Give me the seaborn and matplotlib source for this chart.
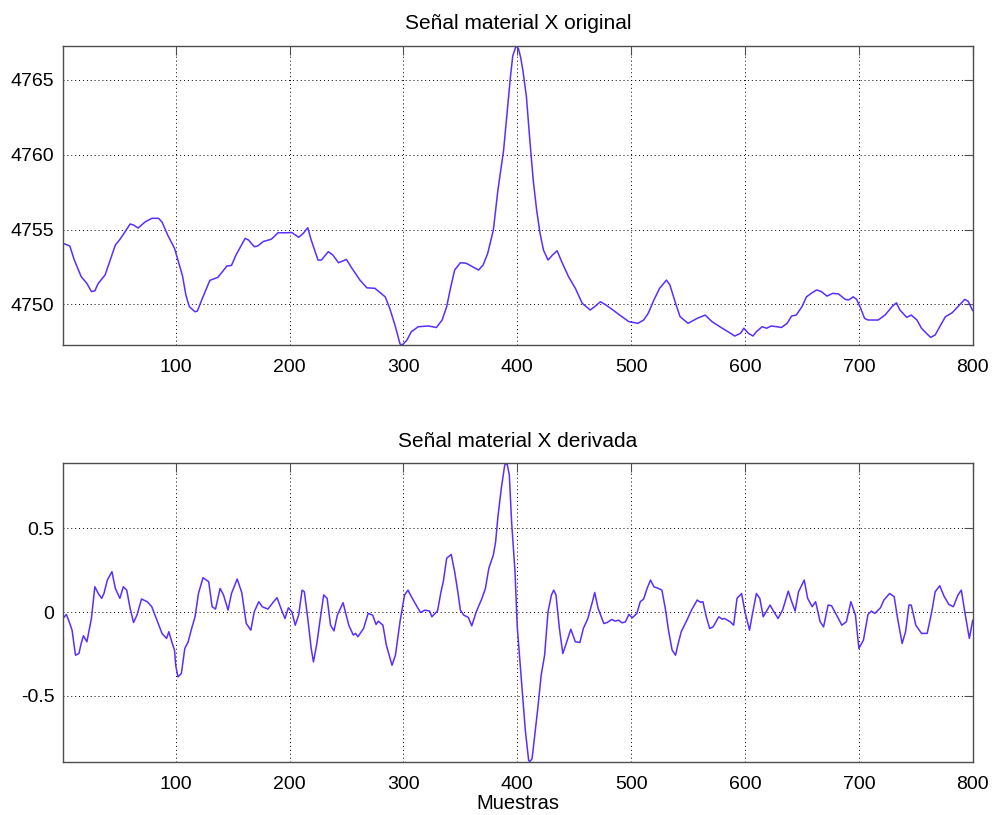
import matplotlib
matplotlib.use("Agg")
import matplotlib.pyplot as plt
import pandas as pd
import seaborn as sns

# Original material signal (sample index, amplitude)
sample_orig = [1, 7, 11, 17, 22, 26, 29, 32, 38, 42, 47, 51, 55, 60, 63, 67, 73, 79, 85, 88,
               93, 99, 102, 106, 109, 112, 117, 119, 124, 130, 137, 145, 149, 153, 161, 164, 169, 172, 177, 184,
               190, 196, 202, 208, 212, 216, 219, 225, 228, 234, 238, 243, 250, 254, 262, 268, 275, 284, 288, 293,
               297, 299, 303, 307, 313, 322, 329, 334, 338, 341, 345, 350, 355, 361, 366, 370, 374, 379, 383, 388,
               391, 394, 396, 399, 401, 403, 405, 408, 411, 414, 417, 420, 423, 427, 431, 435, 439, 445, 451, 457,
               464, 468, 473, 477, 484, 490, 498, 506, 511, 515, 520, 525, 531, 534, 539, 543, 550, 558, 565, 571,
               580, 585, 591, 596, 599, 603, 607, 610, 615, 619, 623, 628, 632, 637, 641, 645, 650, 654, 659, 663,
               667, 672, 677, 682, 688, 691, 695, 698, 701, 705, 708, 717, 723, 729, 733, 736, 742, 746, 751, 755,
               760, 763, 767, 771, 776, 782, 787, 793, 796, 800]
value_orig = [4754.08, 4753.90, 4752.96, 4751.85, 4751.40, 4750.85, 4750.90, 4751.40, 4751.96, 4752.85,
              4753.96, 4754.34, 4754.79, 4755.37, 4755.30, 4755.10, 4755.50, 4755.75, 4755.75, 4755.50,
              4754.63, 4753.74, 4752.96, 4751.90, 4750.60, 4749.84, 4749.50, 4749.55, 4750.50, 4751.60,
              4751.80, 4752.56, 4752.60, 4753.30, 4754.41, 4754.30, 4753.85, 4753.90, 4754.20, 4754.35,
              4754.79, 4754.78, 4754.80, 4754.48, 4754.74, 4755.12, 4754.30, 4752.96, 4752.96, 4753.52,
              4753.30, 4752.78, 4753.00, 4752.50, 4751.60, 4751.10, 4751.07, 4750.50, 4749.73, 4748.50,
              4747.35, 4747.28, 4747.60, 4748.17, 4748.50, 4748.55, 4748.45, 4748.95, 4749.84, 4750.96,
              4752.29, 4752.78, 4752.75, 4752.50, 4752.29, 4752.63, 4753.40, 4754.97, 4757.64, 4760.31,
              4762.77, 4765.21, 4766.60, 4767.29, 4767.10, 4766.50, 4765.60, 4763.90, 4761.00, 4758.30,
              4756.30, 4754.75, 4753.63, 4752.96, 4753.30, 4753.58, 4752.85, 4751.85, 4751.07, 4750.07,
              4749.62, 4749.84, 4750.17, 4750.00, 4749.62, 4749.28, 4748.84, 4748.73, 4748.95, 4749.40,
              4750.29, 4751.07, 4751.62, 4751.30, 4750.07, 4749.17, 4748.73, 4749.06, 4749.28, 4748.84,
              4748.40, 4748.17, 4747.88, 4748.06, 4748.40, 4748.06, 4747.88, 4748.17, 4748.50, 4748.40,
              4748.55, 4748.50, 4748.45, 4748.73, 4749.22, 4749.28, 4749.84, 4750.50, 4750.78, 4750.96,
              4750.85, 4750.55, 4750.73, 4750.70, 4750.33, 4750.29, 4750.50, 4750.33, 4749.84, 4749.06,
              4748.95, 4748.95, 4749.28, 4749.84, 4750.10, 4749.62, 4749.13, 4749.28, 4748.95, 4748.40,
              4748.01, 4747.79, 4747.95, 4748.50, 4749.17, 4749.44, 4749.84, 4750.33, 4750.20, 4749.57]

# Derivative of the signal (sample index, value)
sample_deriv = [1, 4, 7, 9, 12, 15, 17, 19, 22, 26, 29, 32, 35, 37, 40, 44, 47, 51, 54, 57,
                60, 63, 66, 70, 75, 79, 83, 88, 92, 94, 97, 99, 100, 102, 105, 108, 111, 114, 117, 120,
                124, 129, 132, 135, 139, 142, 146, 149, 154, 158, 162, 166, 169, 173, 176, 181, 186, 189, 193, 196,
                199, 202, 205, 208, 211, 213, 216, 219, 221, 224, 227, 230, 233, 236, 239, 242, 247, 252, 256, 258,
                260, 265, 269, 273, 276, 278, 282, 285, 290, 293, 297, 301, 304, 307, 312, 315, 319, 323, 325, 330,
                333, 335, 338, 342, 345, 348, 350, 353, 357, 360, 364, 369, 372, 375, 379, 381, 383, 386, 389, 391,
                393, 395, 398, 400, 404, 407, 410, 411, 413, 415, 418, 421, 424, 427, 430, 432, 434, 437, 440, 443,
                447, 451, 455, 458, 462, 466, 468, 471, 476, 479, 483, 486, 489, 492, 495, 498, 501, 505, 508, 511,
                514, 517, 520, 524, 527, 530, 533, 536, 539, 541, 544, 549, 553, 558, 561, 563, 566, 569, 572, 577,
                580, 582, 587, 590, 593, 597, 600, 604, 606, 610, 613, 616, 622, 625, 629, 633, 638, 641, 644, 647,
                652, 655, 659, 662, 666, 669, 673, 676, 682, 685, 689, 693, 697, 700, 704, 708, 711, 714, 719, 722,
                727, 731, 734, 738, 741, 744, 746, 750, 755, 760, 764, 767, 771, 775, 779, 783, 787, 790, 793, 797,
                800]
value_deriv = [-0.038, -0.014, -0.068, -0.108, -0.257, -0.247, -0.187, -0.141, -0.177, -0.038,
               0.151, 0.111, 0.082, 0.111, 0.191, 0.241, 0.141, 0.082, 0.151, 0.131,
               0.022, -0.062, -0.018, 0.078, 0.062, 0.032, -0.038, -0.127, -0.157, -0.117,
               -0.187, -0.227, -0.317, -0.386, -0.366, -0.217, -0.177, -0.098, -0.028, 0.111,
               0.205, 0.181, 0.032, 0.018, 0.141, 0.102, 0.012, 0.111, 0.197, 0.117,
               -0.068, -0.108, 0.002, 0.062, 0.032, 0.018, 0.062, 0.086, 0.012, -0.038,
               0.026, 0.002, -0.078, -0.018, 0.131, 0.121, -0.038, -0.217, -0.297, -0.187,
               -0.038, 0.102, 0.082, -0.078, -0.112, -0.018, 0.056, -0.078, -0.137, -0.127,
               -0.147, -0.098, -0.008, -0.018, -0.074, -0.054, -0.078, -0.197, -0.317, -0.257,
               -0.058, 0.102, 0.131, 0.092, 0.032, -0.002, 0.012, 0.006, -0.028, 0.008,
               0.121, 0.181, 0.321, 0.344, 0.241, 0.111, 0.012, -0.018, -0.032, -0.082,
               0.002, 0.082, 0.141, 0.261, 0.341, 0.420, 0.569, 0.739, 0.878, 0.887,
               0.818, 0.540, 0.241, -0.090, -0.440, -0.700, -0.885, -0.892, -0.874, -0.755,
               -0.575, -0.376, -0.257, 0.002, 0.102, 0.131, 0.102, -0.098, -0.247, -0.187,
               -0.102, -0.177, -0.181, -0.098, -0.038, 0.062, 0.117, 0.022, -0.068, -0.062,
               -0.044, -0.054, -0.048, -0.064, -0.058, -0.014, -0.034, -0.008, 0.062, 0.078,
               0.141, 0.191, 0.151, 0.141, 0.131, 0.022, -0.117, -0.227, -0.257, -0.197,
               -0.117, -0.048, 0.012, 0.072, 0.058, 0.062, -0.028, -0.098, -0.088, -0.028,
               -0.042, -0.038, -0.058, -0.078, 0.082, 0.111, 0.000, -0.108, -0.030, 0.111,
               0.082, -0.028, 0.042, 0.006, -0.038, 0.012, 0.125, 0.062, 0.006, 0.121,
               0.191, 0.082, 0.032, 0.062, -0.058, -0.088, 0.042, 0.038, -0.038, -0.078,
               -0.058, 0.062, -0.018, -0.217, -0.167, -0.014, 0.006, -0.008, 0.026, 0.072,
               0.111, 0.092, -0.038, -0.187, -0.117, 0.042, 0.042, -0.078, -0.127, -0.127,
               0.002, 0.121, 0.157, 0.092, 0.046, 0.032, 0.102, 0.131, 0.002, -0.157,
               -0.048]

x_ticks = [100, 200, 300, 400, 500, 600, 700, 800]
top_yticks = [4750, 4755, 4760, 4765]
bottom_yticks = [-0.5, 0, 0.5]
top_title = "Señal material X original"
bottom_title = "Señal material X derivada"
x_label = "Muestras"

sns.set_style("white")
plt.rcParams["font.family"] = ["Liberation Sans", "DejaVu Sans"]

LINE_COLOR = "#5a2eff"
FRAME_COLOR = "#4d4d4d"

fig = plt.figure(figsize=(9.93, 8.15), dpi=100)
ax_top = fig.add_axes([0.0634, 0.5767, 0.9162, 0.3672])
ax_bot = fig.add_axes([0.0634, 0.0654, 0.9162, 0.3661])

panels = [
    (ax_top, pd.DataFrame({"muestra": sample_orig, "valor": value_orig}), top_yticks, top_title),
    (ax_bot, pd.DataFrame({"muestra": sample_deriv, "valor": value_deriv}), bottom_yticks, bottom_title),
]

for ax, df, yticks, title in panels:
    sns.lineplot(data=df, x="muestra", y="valor", ax=ax, color=LINE_COLOR,
                 linewidth=1.1, estimator=None, sort=False)
    ax.set_xlim(1, 800)
    ax.set_ylim(df["valor"].min(), df["valor"].max())
    ax.set_xticks(x_ticks)
    ax.set_yticks(yticks)
    ax.set_yticklabels([f"{t:g}" for t in yticks])
    ax.grid(True, color="black", linestyle=(0, (1, 3)), linewidth=0.7)
    ax.set_axisbelow(True)
    ax.tick_params(axis="both", which="major", direction="in", length=6.5, width=0.8,
                   color=FRAME_COLOR, top=True, right=True, labelsize=14, labelcolor="black")
    ax.tick_params(axis="x", pad=10)
    ax.tick_params(axis="y", pad=6)
    for sp in ax.spines.values():
        sp.set_visible(True)
        sp.set_color(FRAME_COLOR)
        sp.set_linewidth(1.0)
    ax.set_title(title, fontsize=15, pad=12, color="black")
    ax.set_xlabel("")
    ax.set_ylabel("")

ax_bot.set_xlabel(x_label, fontsize=14.5, labelpad=1, color="black")

fig.savefig("out.png", dpi=100)
